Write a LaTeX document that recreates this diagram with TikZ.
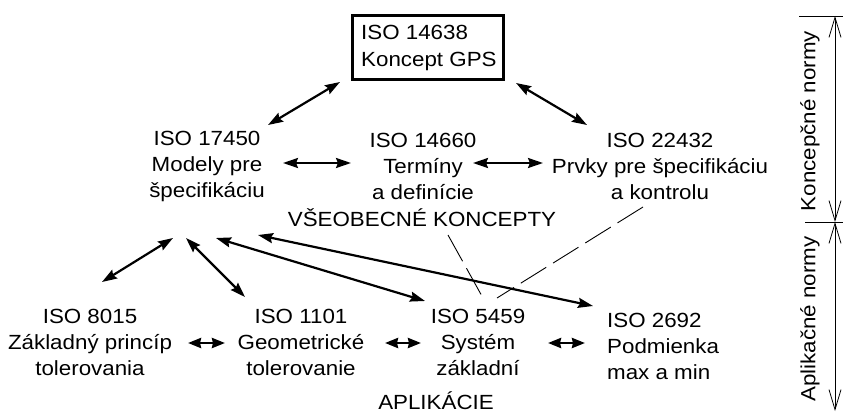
\documentclass[tikz,border=0pt]{standalone}
\usepackage{fontspec}
\setmainfont{Liberation Sans}[FakeStretch=1.09]
\usetikzlibrary{arrows.meta}
\begin{document}
\begin{tikzpicture}[x=1pt,y=-1pt,
 txt/.style={font=\fontsize{20.5}{26}\selectfont, align=center, inner sep=0pt},
 big/.style={line width=2.2pt, {Stealth[length=15pt,width=10pt,inset=2pt]}-{Stealth[length=15pt,width=10pt,inset=2pt]}},
 shortarr/.style={line width=2.8pt, {Stealth[length=13pt,width=10pt,inset=1pt]}-{Stealth[length=13pt,width=10pt,inset=1pt]}},
 thinline/.style={line width=0.9pt, dash pattern=on 30pt off 8pt},
 dim/.style={line width=0.8pt, {Straight Barb[length=20pt,width=12pt]}-{Straight Barb[length=20pt,width=12pt]}},
 tick/.style={line width=0.8pt}
]
\useasboundingbox (0,0) rectangle (843,412);
\fill[white] (0,0) rectangle (843,412);

% top box
\node[draw, line width=3pt, minimum width=150.5pt, minimum height=63.5pt, inner sep=0pt]
      (gps) at (427.75,47.75) {};
\node[txt, font=\fontsize{20.5}{27.5}\selectfont, align=left, anchor=west]
      (gpstxt) at (361,48) {ISO 14638\\Koncept GPS};

% general concepts
\node[txt] (n17450) at (207,166) {ISO 17450\\Modely pre\\špecifikáciu};
\node[txt] (n14660) at (423,166) {ISO 14660\\Termíny\\a definície};
\node[txt] (n22432) at (660,166) {ISO 22432\\Prvky pre špecifikáciu\\a kontrolu};
\node[txt] (vseob) at (422,218) {VŠEOBECNÉ KONCEPTY};

% applications
\node[txt] (n8015) at (90,342) {ISO 8015\\Základný princíp\\tolerovania};
\node[txt] (n1101) at (301,342) {ISO 1101\\Geometrické\\tolerovanie};
\node[txt] (n5459) at (478,342) {ISO 5459\\Systém\\základní};
\node[txt, align=left, anchor=west] (n2692) at (607,346) {ISO 2692\\Podmienka\\max a min};
\node[txt, anchor=base] (aplik) at (436,409) {APLIKÁCIE};

% arrow end points
\coordinate (a1s) at (268,125); \coordinate (a1e) at (340,82);
\coordinate (a2s) at (516,83);  \coordinate (a2e) at (587,125);
\coordinate (h1s) at (283,163); \coordinate (h1e) at (351,163);
\coordinate (h2s) at (473,163); \coordinate (h2e) at (543,163);
\coordinate (f1s) at (173,238); \coordinate (f1e) at (102,282);
\coordinate (f2s) at (186,238); \coordinate (f2e) at (245,297);
\coordinate (f3s) at (216,238); \coordinate (f3e) at (425,301);
\coordinate (f4s) at (258,235); \coordinate (f4e) at (593,306);
\coordinate (s1s) at (188,343); \coordinate (s1e) at (225,343);
\coordinate (s2s) at (385,343); \coordinate (s2e) at (421,343);
\coordinate (s3s) at (548,343); \coordinate (s3e) at (585,343);
\coordinate (d1s) at (448,235); \coordinate (d1e) at (483,298);
\coordinate (d2s) at (643,207); \coordinate (d2e) at (497,298);

\draw[big] (a1s) -- (a1e);
\draw[big] (a2s) -- (a2e);
\draw[big] (h1s) -- (h1e);
\draw[big] (h2s) -- (h2e);
\draw[big] (f1s) -- (f1e);
\draw[big] (f2s) -- (f2e);
\draw[big] (f3s) -- (f3e);
\draw[big] (f4s) -- (f4e);
\draw[shortarr] (s1s) -- (s1e);
\draw[shortarr] (s2s) -- (s2e);
\draw[shortarr] (s3s) -- (s3e);
\draw[thinline] (d1s) -- (d1e);
\draw[thinline] (d2s) -- (d2e);

% dimension on the right
\coordinate (dtop) at (835,16);
\coordinate (dmid) at (835,222);
\coordinate (dbot) at (835,411);
\coordinate (t1) at (799,16);  \coordinate (t1e) at (843,16);
\coordinate (t2) at (805,222); \coordinate (t2e) at (843,222);
\draw[tick] (t1) -- (t1e);
\draw[tick] (t2) -- (t2e);
\draw[dim] (dtop) -- (dmid);
\draw[dim] (dmid) -- (dbot);
\node[txt, rotate=90] (konc) at (810,121) {Koncepčné normy};
\node[txt, rotate=90] (apln) at (810,319) {Aplikačné normy};
\end{tikzpicture}
\end{document}
